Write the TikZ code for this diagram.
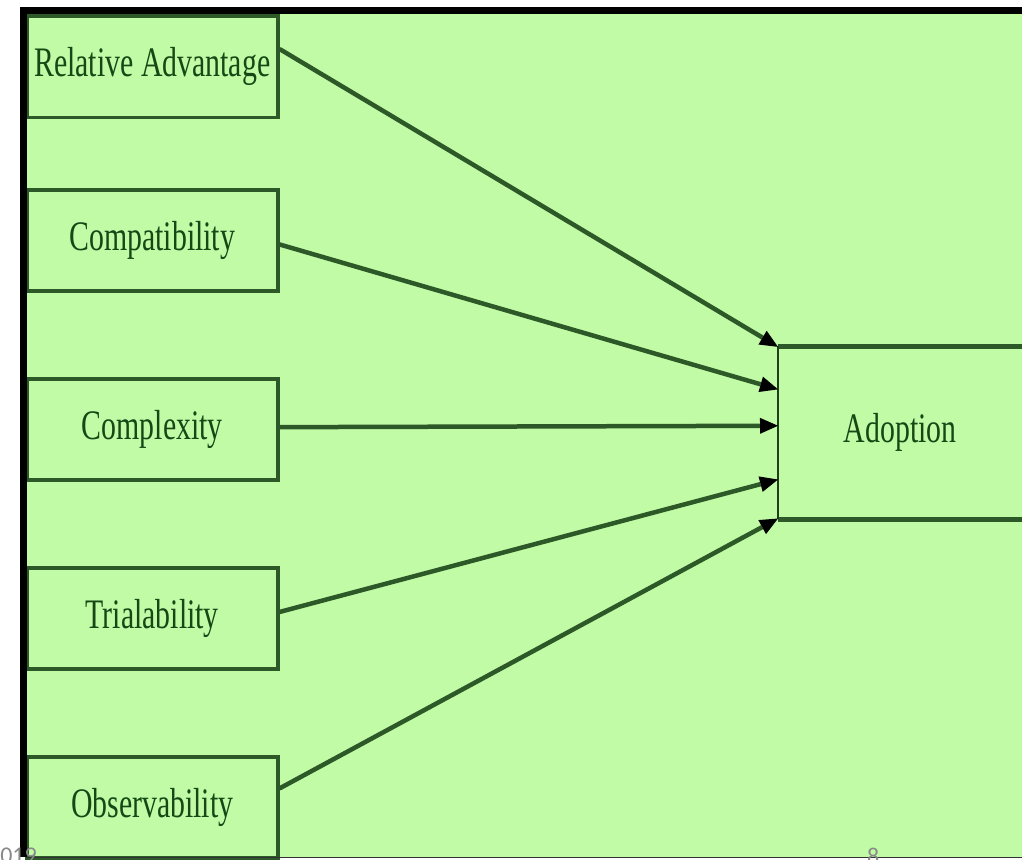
\documentclass[tikz,border=0pt]{standalone}
\usepackage{fontspec}
\setmainfont{Liberation Serif}
\newfontfamily\slidefont{Carlito}
\usepackage{graphicx}
\usetikzlibrary{arrows.meta,calc}
\definecolor{bggreen}{RGB}{194,251,166}
\definecolor{lnGreen}{RGB}{45,88,40}
\definecolor{txtGreen}{RGB}{22,72,22}
\definecolor{slidegray}{RGB}{137,137,137}
\newcommand{\narrowtxt}[1]{\scalebox{0.71}[1]{#1}}
\begin{document}
\begin{tikzpicture}[x=1pt,y=-1pt,
  factor/.style={draw=lnGreen, line width=3.5pt, fill=bggreen, anchor=north west,
    minimum width=251pt, minimum height=101pt, inner sep=0pt,
    text=txtGreen, font=\fontsize{42}{45}\selectfont},
  link/.style={draw=lnGreen, line width=4.5pt,
    -{Triangle[length=18pt,width=16pt,color=black,line width=0pt]}},
  slidetxt/.style={font=\slidefont\fontsize{24}{24}\selectfont, text=slidegray, inner sep=0pt}]
\useasboundingbox (0,0) rectangle (1022,859);
% panel
\fill[white] (0,0) rectangle (1022,859);
\fill[bggreen] (20,7) rectangle (1022,857);
% factor boxes
\node[factor] (ra) at (25,14.5) {\narrowtxt{Relative Advantage}};
\node[factor] (co) at (25,188) {\narrowtxt{Compatibility}};
\node[factor] (cx) at (25,377) {\narrowtxt{Complexity}};
\node[factor] (tr) at (25,566) {\narrowtxt{Trialability}};
\node[factor] (ob) at (25,755) {\narrowtxt{Observability}};
% adoption box
\node[anchor=north west, minimum width=244pt, minimum height=173pt, inner sep=0pt,
  text=txtGreen, font=\fontsize{42}{45}\selectfont] (ad) at (778,346) {\narrowtxt{Adoption}};
\draw[lnGreen, line width=5pt] (ad.north west) -- (ad.north east);
\draw[lnGreen, line width=5pt] (ad.south west) -- (ad.south east);
\draw[lnGreen!70!black, line width=2pt] (ad.north west) -- (ad.south west);
% connector ends
\coordinate (ra-o) at ($(ra.north east)!0.33!(ra.south east)$);
\coordinate (co-o) at ($(co.north east)!0.54!(co.south east)$);
\coordinate (cx-o) at ($(cx.north east)!0.48!(cx.south east)$);
\coordinate (tr-o) at ($(tr.north east)!0.44!(tr.south east)$);
\coordinate (ob-o) at ($(ob.north east)!0.32!(ob.south east)$);
\coordinate (ad-1) at ($(ad.north west)!0.005!(ad.south west)$);
\coordinate (ad-2) at ($(ad.north west)!0.25!(ad.south west)$);
\coordinate (ad-3) at ($(ad.north west)!0.46!(ad.south west)$);
\coordinate (ad-4) at ($(ad.north west)!0.77!(ad.south west)$);
\coordinate (ad-5) at ($(ad.north west)!0.995!(ad.south west)$);
\draw[link] (ra-o) -- (ad-1);
\draw[link] (co-o) -- (ad-2);
\draw[link] (cx-o) -- (ad-3);
\draw[link] (tr-o) -- (ad-4);
\draw[link] (ob-o) -- (ad-5);
% black frame
\fill[black] (20,7) rectangle (1022,14);
\fill[black] (20,7) rectangle (27,857);
\draw[black!80, line width=1.5pt] (27,857.5) -- (1022,857.5);
% slide footer remnants
\node[slidetxt, anchor=base east] (yr) at (37,863) {2019};
\node[slidetxt, anchor=base west] (pg) at (867,864) {8};
\end{tikzpicture}
\end{document}
